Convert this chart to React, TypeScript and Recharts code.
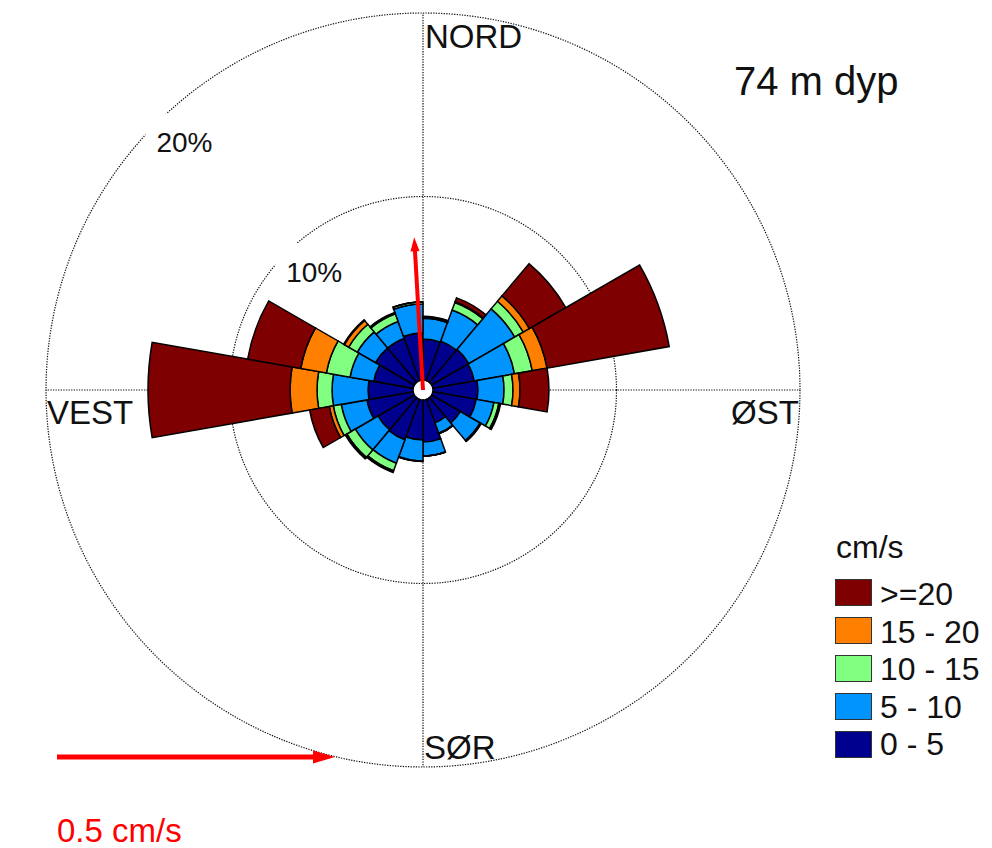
import {
  RadialBarChart,
  RadialBar,
  PolarGrid,
  PolarAngleAxis,
  PolarRadiusAxis,
} from "recharts"

// 20° direction sectors, clockwise from north
const sectors = [
  "0-20", "20-40", "40-60", "60-80", "80-100", "100-120",
  "120-140", "140-160", "160-180", "180-200", "200-220", "220-240",
  "240-260", "260-280", "280-300", "300-320", "320-340", "340-360",
]

// frequency (%) of each speed class per sector
const speed0to5 = [2.23, 2.29, 2.34, 2.29, 2.45, 2.4, 1.8, 1.36, 2.29, 2.18, 2.34, 2.29, 2.56, 2.45, 2.18, 2.45, 2.45, 2.56]
const speed5to10 = [1.14, 1.8, 2.89, 2.23, 1.42, 0.98, 1.25, 0.6, 0.76, 1.14, 1.36, 1.42, 1.42, 1.96, 1.31, 1.14, 0.98, 1.58]
const speed10to15 = [0.05, 0.44, 0.54, 0.98, 0.49, 0.27, 0.03, 0.03, 0, 0.03, 0.44, 0.54, 0.44, 0.82, 1.31, 0.54, 0.44, 0.11]
const speed15to20 = [0.03, 0.05, 0.38, 0.82, 0.38, 0.05, 0.03, 0, 0, 0, 0.05, 0.05, 0.22, 1.47, 1.42, 0.27, 0.05, 0]
const speed20plus = [0.03, 0.22, 2.29, 6.76, 1.58, 0.05, 0, 0, 0, 0, 0.05, 0.05, 1.09, 7.74, 2.94, 0.05, 0.03, 0]

const classKeys = ["s0", "s1", "s2", "s3", "s4"]
const classLabels = ["0 - 5", "5 - 10", "10 - 15", "15 - 20", ">=20"]
const classColors = ["#00008f", "#0094ff", "#80ff80", "#ff8000", "#7f0000"]

const ringTicks = [10, 20]
const maxPercent = 20

// mean current vector and scale arrow (cm/s)
const meanSpeed = 0.275
const meanDirection = 356.7
const scaleSpeed = 0.5

const rows = sectors.map((sector, i) => ({
  sector,
  s0: speed0to5[i],
  s1: speed5to10[i],
  s2: speed10to15[i],
  s3: speed15to20[i],
  s4: speed20plus[i],
}))

const W = 992
const H = 848
const CX = 423
const CY = 390
const INNER_R = 10
const OUTER_R = 377
const PX_PER_CMS = 556
const SECTOR_DEG = 360 / sectors.length
const FONT = "'Liberation Sans', Arial, Helvetica, sans-serif"

const ringRadius = (p: number) => INNER_R + ((OUTER_R - INNER_R) * p) / maxPercent

function polar(r: number, deg: number) {
  const a = (deg * Math.PI) / 180
  return { x: CX + r * Math.sin(a), y: CY - r * Math.cos(a) }
}

function Arrow({ x1, y1, x2, y2, width, head, headWidth }: any) {
  const len = Math.hypot(x2 - x1, y2 - y1)
  const ux = (x2 - x1) / len
  const uy = (y2 - y1) / len
  const bx = x2 - ux * head
  const by = y2 - uy * head
  const px = (-uy * headWidth) / 2
  const py = (ux * headWidth) / 2
  return (
    <g>
      <line x1={x1} y1={y1} x2={bx + ux} y2={by + uy} stroke="#ff0000" strokeWidth={width} />
      <polygon points={`${x2},${y2} ${bx + px},${by + py} ${bx - px},${by - py}`} fill="#ff0000" />
    </g>
  )
}

export default function App() {
  const meanTip = polar(meanSpeed * PX_PER_CMS, meanDirection)
  const scaleX = 57
  const scaleY = 757

  return (
    <div style={{ position: "absolute", left: 0, top: 0, width: W, height: H, background: "#fff" }}>
      {/* the angle axis centres each category on its tick, so start one sector later */}
      <RadialBarChart
        width={W}
        height={H}
        cx={CX}
        cy={CY}
        innerRadius={INNER_R}
        outerRadius={OUTER_R}
        data={rows}
        layout="centric"
        startAngle={90 - SECTOR_DEG}
        endAngle={-270 - SECTOR_DEG}
        barCategoryGap={0}
        barGap={0}
        margin={{ top: 0, right: 0, bottom: 0, left: 0 }}
      >
        <PolarGrid
          gridType="circle"
          polarRadius={ringTicks.map(ringRadius)}
          polarAngles={[0, 90, 180, 270]}
          stroke="#111"
          strokeWidth={1.2}
          strokeDasharray="1.3 1.3"
        />
        <PolarAngleAxis type="category" dataKey="sector" tick={false} axisLine={false} tickLine={false} />
        <PolarRadiusAxis type="number" domain={[0, maxPercent]} tick={false} axisLine={false} tickLine={false} />
        {classKeys.map((key, i) => (
          <RadialBar
            key={key}
            dataKey={key}
            stackId="speed"
            fill={classColors[i]}
            stroke="#000"
            strokeWidth={1.5}
            isAnimationActive={false}
          />
        ))}
      </RadialBarChart>

      <svg
        width={W}
        height={H}
        style={{ position: "absolute", left: 0, top: 0, pointerEvents: "none" }}
        fontFamily={FONT}
      >
        {ringTicks.map((p) => {
          const pt = polar(ringRadius(p), 315)
          return (
            <g key={p}>
              <rect x={pt.x - 11} y={pt.y - 10} width={68} height={44} fill="#fff" />
              <text x={pt.x} y={pt.y + 29} fontSize={28} fill="#111">
                {p}%
              </text>
            </g>
          )
        })}

        <text x={425} y={48} fontSize={33} fill="#111">NORD</text>
        <text x={731} y={424} fontSize={33} fill="#111">ØST</text>
        <text x={424} y={759} fontSize={33} fill="#111">SØR</text>
        <text x={47} y={424} fontSize={33} fill="#111">VEST</text>

        <text x={734} y={95} fontSize={40} fill="#111">74 m dyp</text>

        <Arrow x1={CX} y1={CY} x2={meanTip.x} y2={meanTip.y} width={4} head={14} headWidth={9} />
        <Arrow
          x1={scaleX}
          y1={scaleY}
          x2={scaleX + scaleSpeed * PX_PER_CMS}
          y2={scaleY}
          width={5}
          head={22}
          headWidth={13}
        />
        <text x={57} y={842} fontSize={33} fill="#ff0000">{scaleSpeed} cm/s</text>

        <text x={836} y={558} fontSize={32} fill="#111">cm/s</text>
        {classLabels
          .map((label, i) => ({ label, color: classColors[i] }))
          .reverse()
          .map((c, j) => (
            <g key={c.label}>
              <rect x={835.5} y={579.5 + j * 38} width={36} height={26} fill={c.color} stroke="#333" strokeWidth={1} />
              <text x={880} y={605 + j * 37.5} fontSize={32} fill="#111">{c.label}</text>
            </g>
          ))}
      </svg>
    </div>
  )
}
